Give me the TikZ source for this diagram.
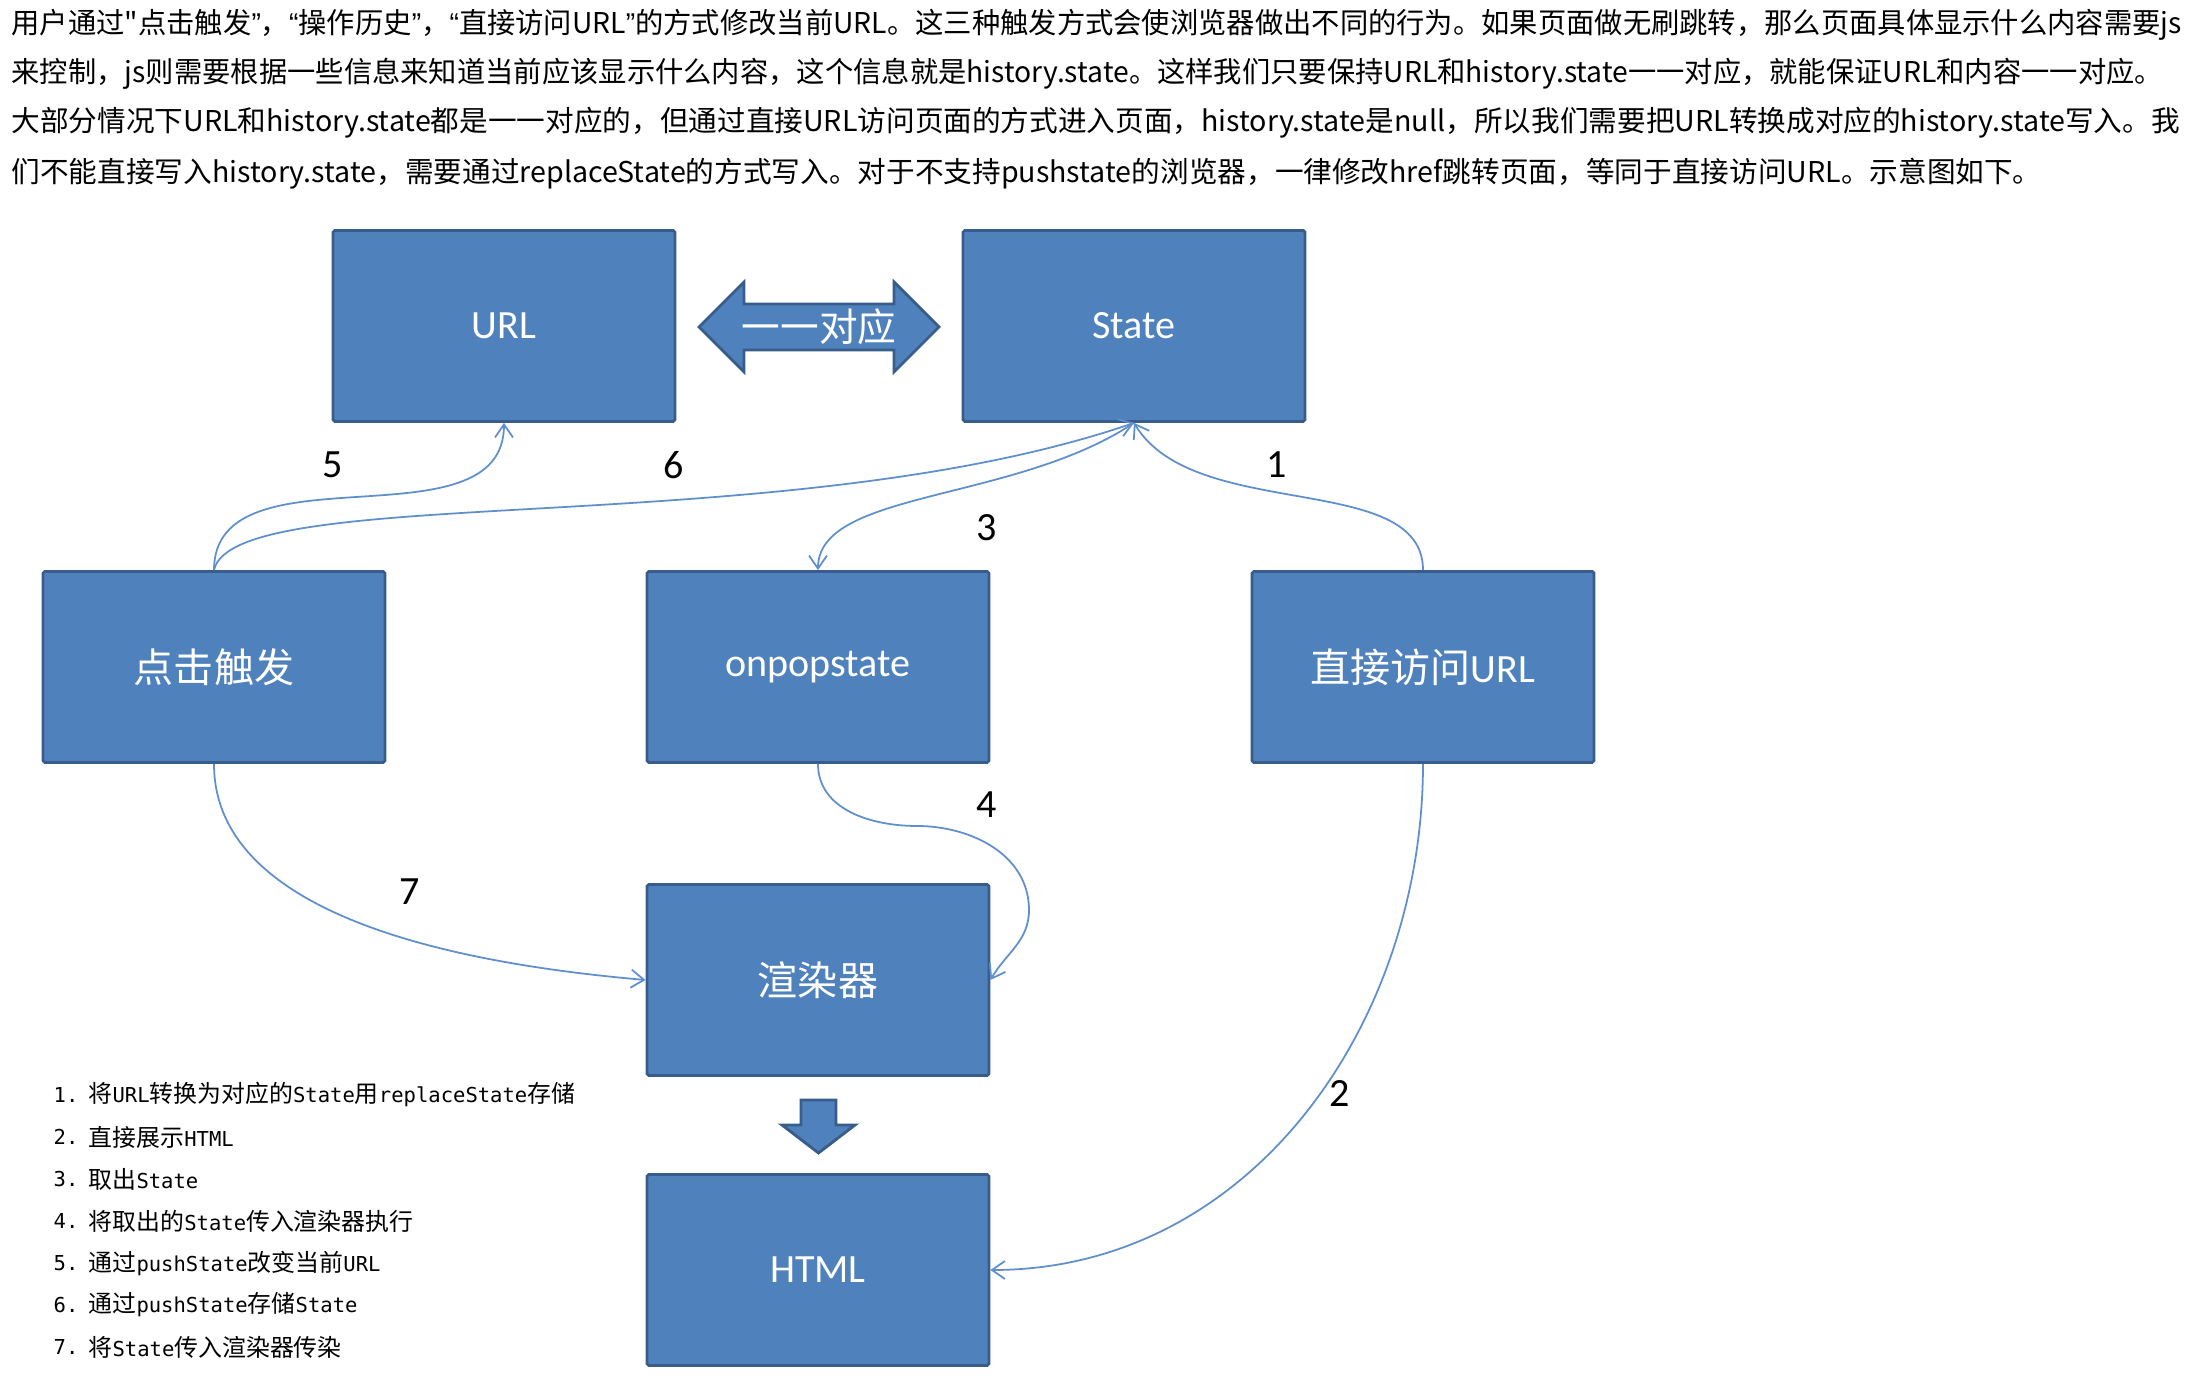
\documentclass[tikz,border=0pt]{standalone}
\usepackage{fontspec}
\setmainfont{Carlito}
\newfontfamily\cjk{Noto Sans CJK SC}
\newfontfamily\quotefont{Liberation Sans}
\newfontfamily\listmono[Scale=0.86]{DejaVu Sans Mono}
\newcommand\mn[1]{{\listmono #1}}
\newcommand\qopen{{\quotefont “}}
\newcommand\qclose{{\quotefont ”}}
\usetikzlibrary{arrows.meta}
\definecolor{boxfill}{RGB}{79,129,189}
\definecolor{boxline}{RGB}{56,93,138}
\definecolor{flowline}{RGB}{96,143,205}
\tikzset{
    blk/.style={draw=boxline, fill=boxfill, line width=0.8pt, rounded corners=0.5pt,
        minimum width=3.42cm, minimum height=1.91cm, text=white,
        font=\fontsize{11.4}{13}\selectfont},
    flow/.style={draw=flowline, line width=0.5pt, ->},
    num/.style={font=\fontsize{11.4}{13}\selectfont},
    para/.style={anchor=west, inner sep=0pt, font=\cjk\fontsize{8.15}{10}\selectfont},
    narrow/.style={xscale=0.988, transform shape},
    item/.style={anchor=west, inner sep=0pt, font=\cjk\fontsize{6.8}{8}\selectfont},
}

\begin{document}
\begin{tikzpicture}[>={Straight Barb[length=1.3mm,width=1.8mm]}]
        \fill[white] (0,0) rectangle (21.96,13.88);
        \useasboundingbox (0,0) rectangle (21.96,13.88);

        % 说明文字
        \node[para,narrow] (line1) at (0.11,13.63) {用户通过"点击触发\qclose，\qopen 操作历史\qclose，\qopen 直接访问URL\qclose 的方式修改当前URL。这三种触发方式会使浏览器做出不同的行为。如果页面做无刷跳转，那么页面具体显示什么内容需要js};
        \node[para,narrow] (line2) at (0.11,13.14) {来控制，js则需要根据一些信息来知道当前应该显示什么内容，这个信息就是history.state。这样我们只要保持URL和history.state一一对应，就能保证URL和内容一一对应。};
        \node[para] (line3) at (0.11,12.65) {大部分情况下URL和history.state都是一一对应的，但通过直接URL访问页面的方式进入页面，history.state是null，所以我们需要把URL转换成对应的history.state写入。我};
        \node[para] (line4) at (0.11,12.14) {们不能直接写入history.state，需要通过replaceState的方式写入。对于不支持pushstate的浏览器，一律修改href跳转页面，等同于直接访问URL。示意图如下。};

        \node[blk] (url) at (5.04,10.62) {URL};
        \node[blk] (state) at (11.34,10.62) {State};
        \node[blk] (click) at (2.14,7.21) {\cjk 点击触发};
        \node[blk] (pop) at (8.18,7.21) {onpopstate};
        \node[blk] (direct) at (14.23,7.21) {{\cjk 直接访问}URL};
        \node[blk] (render) at (8.18,4.08) {\cjk 渲染器};
        \node[blk] (html) at (8.18,1.18) {HTML};

        % 双向箭头
        \draw[draw=boxline, fill=boxfill, line width=0.8pt] (6.99,10.61) -- (7.44,11.06) -- (7.44,10.84)
            -- (8.94,10.84) -- (8.94,11.06) -- (9.39,10.61) -- (8.94,10.16) -- (8.94,10.38)
            -- (7.44,10.38) -- (7.44,10.16) -- cycle;
        \node[text=white, font=\cjk\fontsize{11}{13}\selectfont] (onetoone) at (8.19,10.61) {一一对应};

        % 向下箭头
        \draw[draw=boxline, fill=boxfill, line width=0.8pt] (8.01,2.88) -- (8.36,2.88) -- (8.36,2.63)
            -- (8.55,2.63) -- (8.185,2.35) -- (7.82,2.63) -- (8.01,2.63) -- cycle;

        \coordinate (bend4a) at (9.17,5.62);
        \coordinate (bend4b) at (10.29,4.78);

        \draw[flow] (direct.north) .. controls +(0,1) and +(0.6,-1) .. (state.south);    % 1
        \draw[flow] (direct.south) to[out=-90,in=0] (html.east);    % 2
        \draw[flow] (state.south) .. controls +(-1.2,-0.8) and +(0,0.8) .. (pop.north);    % 3
        \draw[flow] (pop.south) to[out=-90,in=180] (bend4a) to[out=0,in=90] (bend4b)
            to[out=-90,in=60] (render.east);    % 4
        \draw[flow] (click.north) to[out=90,in=-90] (url.south);    % 5
        \draw[flow] (click.north) .. controls +(0.2,0.9) and +(-3.5,-1.2) .. (state.south);    % 6
        \draw[flow] (click.south) to[out=-90,in=175,looseness=0.85] (render.west);    % 7

        \foreach \n/\x/\y in {1/12.77/9.23,2/13.40/2.94,3/9.87/8.60,4/9.87/5.83,
        5/3.33/9.23,6/6.74/9.23,7/4.10/4.96}
        {
            \node[num] (lbl\n) at (\x,\y) {\n};
        }

        % 步骤列表
        \foreach \n/\txt in {1/{将\mn{URL}转换为对应的\mn{State}用\mn{replaceState}存储},
        2/{直接展示\mn{HTML}},3/{取出\mn{State}},4/{将取出的\mn{State}传入渲染器执行},
        5/{通过\mn{pushState}改变当前\mn{URL}},6/{通过\mn{pushState}存储\mn{State}},
        7/{将\mn{State}传入渲染器传染}}
        {
            \node[item] (num\n) at (0.53,{3.35-0.42*\n}) {\mn{\n.}};
            \node[item] (item\n) at (0.88,{3.35-0.42*\n}) {\txt};
        }
\end{tikzpicture}
\end{document}
